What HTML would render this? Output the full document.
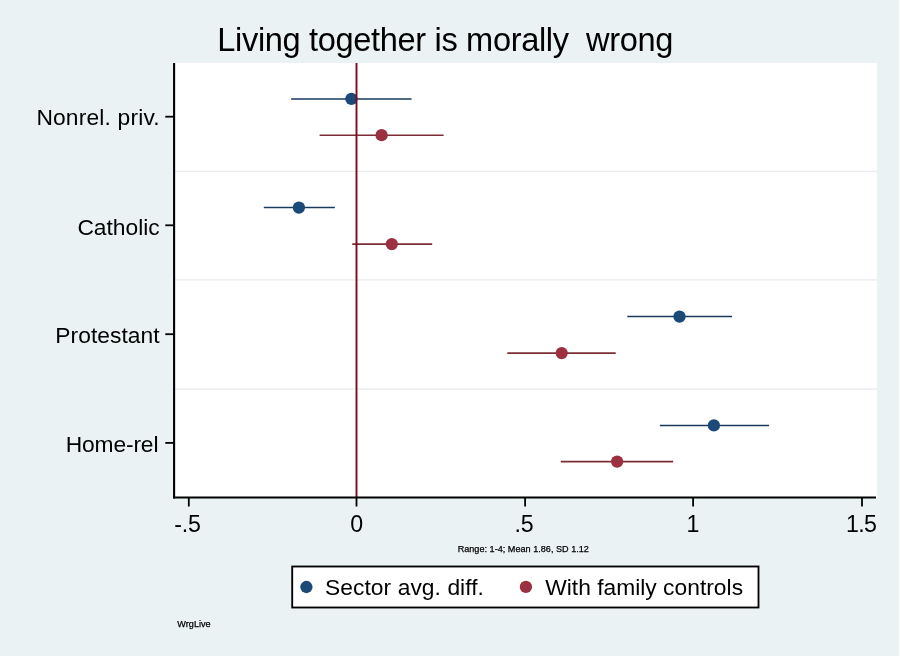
<!DOCTYPE html>
<html><head><meta charset="utf-8">
<style>
html,body{margin:0;padding:0;background:#eaf2f3;}
body{width:900px;height:656px;overflow:hidden;}
svg{display:block}
text{font-family:"Liberation Sans",sans-serif;fill:#000}
</style></head><body>
<svg width="900" height="656" viewBox="0 0 900 656">
<rect x="0" y="0" width="900" height="656" fill="#eaf2f3"/>
<rect x="898.6" y="0" width="1.4" height="656" fill="#fbfdfd"/>
<!-- plot region -->
<rect x="174" y="63" width="703" height="434.5" fill="#ffffff"/>
<!-- grid -->
<g stroke="#e8ecec" stroke-width="1.3">
<line x1="174" x2="877" y1="171.3" y2="171.3"/>
<line x1="174" x2="877" y1="279.8" y2="279.8"/>
<line x1="174" x2="877" y1="389.2" y2="389.2"/>
</g>
<!-- CI lines + markers -->
<g stroke="#193a5e" stroke-width="1.5">
<line x1="291.1" x2="411.6" y1="98.95" y2="98.95"/>
<line x1="263.8" x2="334.9" y1="207.6" y2="207.6"/>
<line x1="627.3" x2="732" y1="316.6" y2="316.6"/>
<line x1="659.9" x2="769.1" y1="425.4" y2="425.4"/>
</g>
<g stroke="#7c2c34" stroke-width="1.55">
<line x1="319.6" x2="443.6" y1="135.15" y2="135.15"/>
<line x1="352.2" x2="432.2" y1="244.1" y2="244.1"/>
<line x1="507.3" x2="615.7" y1="353.1" y2="353.1"/>
<line x1="560.8" x2="673.2" y1="461.6" y2="461.6"/>
</g>
<g fill="#1b4a78">
<circle cx="351.4" cy="98.95" r="6.15"/>
<circle cx="298.9" cy="207.6" r="6.15"/>
<circle cx="679.5" cy="316.6" r="6.15"/>
<circle cx="713.9" cy="425.4" r="6.15"/>
</g>
<g fill="#9a3040">
<circle cx="381.6" cy="135.15" r="6.15"/>
<circle cx="391.8" cy="244.1" r="6.15"/>
<circle cx="561.7" cy="353.1" r="6.15"/>
<circle cx="617.1" cy="461.6" r="6.15"/>
</g>
<!-- zero line -->
<line x1="356.5" x2="356.5" y1="63" y2="497" stroke="#7e0a22" stroke-width="1.9"/>
<!-- axes -->
<g stroke="#000" stroke-width="2.1" fill="none">
<line x1="174.1" x2="174.1" y1="63" y2="498.5"/>
<line x1="173.1" x2="876" y1="497.5" y2="497.5"/>
</g>
<g stroke="#000" stroke-width="1.8">
<line x1="165.3" x2="174" y1="116.7" y2="116.7"/>
<line x1="165.3" x2="174" y1="225.3" y2="225.3"/>
<line x1="165.3" x2="174" y1="334.2" y2="334.2"/>
<line x1="165.3" x2="174" y1="442.9" y2="442.9"/>
<line x1="188.8" x2="188.8" y1="497" y2="506.5"/>
<line x1="356.5" x2="356.5" y1="497" y2="506.5"/>
<line x1="525.1" x2="525.1" y1="497" y2="506.5"/>
<line x1="693.1" x2="693.1" y1="497" y2="506.5"/>
<line x1="862" x2="862" y1="497" y2="506.5"/>
</g>
<defs><filter id="nf" x="0" y="0" width="900" height="656" filterUnits="userSpaceOnUse"><feOffset dx="0" dy="0"/></filter></defs>
<g filter="url(#nf)">
<!-- title -->
<text id="title" x="217.3" y="51.3" font-size="32.6" xml:space="preserve" letter-spacing="-0.345" text-anchor="start">Living together is morally  wrong</text>
<!-- y labels -->
<g>
<text id="yl1" x="36.4" y="125.1" font-size="22.8" letter-spacing="0.17" text-anchor="start">Nonrel. priv.</text>
<text id="yl2" x="77.40" y="234.7" font-size="22.8" letter-spacing="0" text-anchor="start">Catholic</text>
<text id="yl3" x="55.3" y="343.1" font-size="22.8" letter-spacing="0.04" text-anchor="start">Protestant</text>
<text id="yl4" x="65.7" y="451.6" font-size="22.8" letter-spacing="-0.14" text-anchor="start">Home-rel</text>
</g>
<!-- x labels -->
<g font-size="23.2" text-anchor="middle" letter-spacing="-0.3">
<text id="xl1" x="187.4" y="532">-.5</text>
<text id="xl2" x="356.5" y="532">0</text>
<text id="xl3" x="523.9" y="532">.5</text>
<text id="xl4" x="692.7" y="532">1</text>
<text id="xl5" x="861.1" y="532" letter-spacing="-0.6">1.5</text>
</g>
<text id="note" x="457.66" y="551.6" font-size="9.1" letter-spacing="0.01" text-anchor="start" stroke="#000" stroke-width="0.25">Range: 1-4; Mean 1.86, SD 1.12</text>
<!-- legend -->
<rect x="292.2" y="566.5" width="466.3" height="41" fill="#fff" stroke="#000" stroke-width="1.85"/>
<circle cx="306.4" cy="587" r="6.15" fill="#1b4a78"/>
<circle cx="525.9" cy="586.9" r="6.15" fill="#9a3040"/>
<g>
<text id="lg1" x="325.02" y="595.3" font-size="22.8" letter-spacing="0.06" text-anchor="start">Sector avg. diff.</text>
<text id="lg2" x="545.18" y="595.3" font-size="22.8" letter-spacing="0.013" text-anchor="start">With family controls</text>
</g>
<text id="wl" x="177.30" y="627.1" font-size="9.1" letter-spacing="0.030" text-anchor="start" stroke="#000" stroke-width="0.25">WrgLive</text>
</g>
</svg>
</body></html>
